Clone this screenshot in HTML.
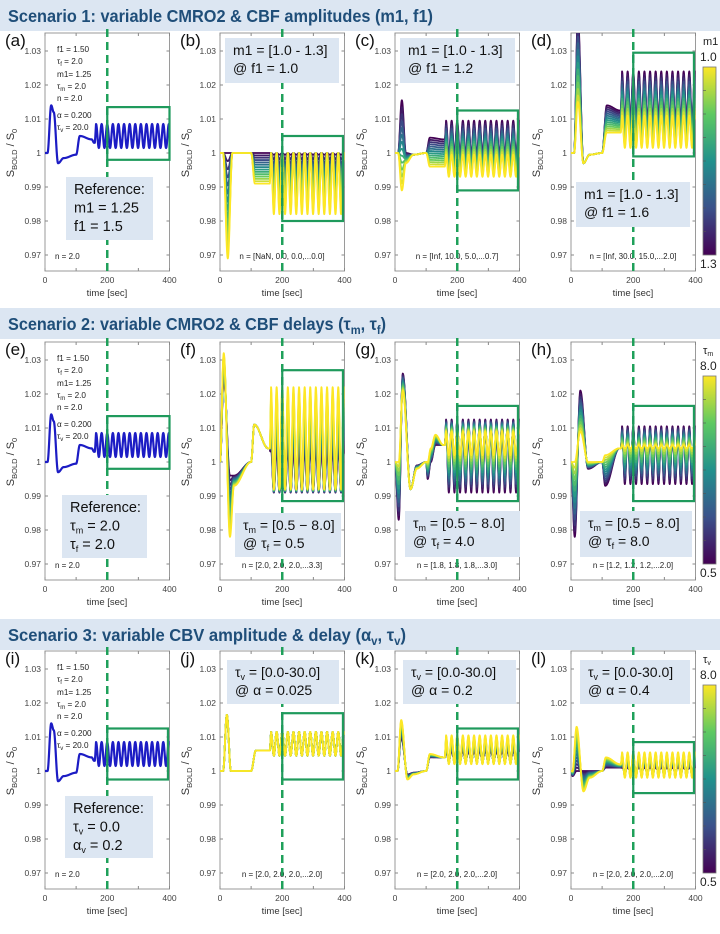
<!DOCTYPE html>
<html><head><meta charset="utf-8"><style>
html,body{margin:0;padding:0;background:#fff;}
svg{display:block;font-family:"Liberation Sans",sans-serif;}
</style></head><body>
<svg id="fig" width="720" height="934" viewBox="0 0 720 934" xmlns="http://www.w3.org/2000/svg">
<defs>
<linearGradient id="vir" x1="0" y1="1" x2="0" y2="0">
<stop offset="0" stop-color="#440154"/><stop offset="0.25" stop-color="#3b528b"/><stop offset="0.5" stop-color="#21918c"/><stop offset="0.75" stop-color="#5ec962"/><stop offset="1" stop-color="#fde725"/>
</linearGradient>
</defs>
<g id="layer"></g>
</svg>
<script>
// ---- data ----
const yTicks = [0.97, 0.98, 0.99, 1.00, 1.01, 1.02, 1.03];
const yTickLabels = ["0.97", "0.98", "0.99", "1", "1.01", "1.02", "1.03"];
const xTicks = [0, 100, 200, 300, 400];
const xTickLabels = ["0", "", "200", "", "400"];
const oscStart = 160;
const oscPeriod = 18;

const refT = [0, 8, 20, 28, 42, 60, 100, 112, 150, 158];
const refV = [1, 1, 1.014, 1.012, 0.997, 0.9985, 0.9995, 1.005, 1.004, 1.003];
const refOsc = [1.0085, 1.0015];

const bT = [0, 10, 25, 40, 100, 112, 158];
const bA = [1, 1, 1, 1, 1, 1, 1];
const bB = [1, 1, 0.969, 1, 1, 0.991, 0.991];
const bOscA = [1, 0.9995];
const bOscB = [1, 0.982];

const cT = [0, 10, 22, 35, 60, 100, 112, 158];
const cA = [1, 1, 1.0155, 1.0, 0.9995, 1.0, 1.0045, 1.004];
const cB = [1, 1, 0.989, 0.997, 0.9995, 1, 0.996, 0.996];
const cOscA = [1.0095, 0.999];
const cOscB = [0.9995, 0.993];

const dT = [0, 10, 22, 40, 60, 100, 115, 158];
const dA = [1, 1, 1.04, 0.997, 0.9995, 1, 1.014, 1.0125];
const dB = [1, 1, 1.015, 0.997, 0.9995, 1, 1.006, 1.006];
const dOscA = [1.024, 1.009];
const dOscB = [1.011, 1.0015];

const fT = [0, 12, 32, 45, 100, 110, 155];
const fA = [1, 1.025, 0.996, 0.996, 1, 1.011, 1.004];
const fB = [1, 1.032, 0.978, 0.993, 1, 1.011, 1.004];
const fOscA = [1.004, 0.991];
const fOscB = [1.022, 0.992];

const gT = [0, 12, 25, 50, 70, 100, 105, 115, 130, 155];
const gA = [1, 0.983, 1.026, 0.992, 0.999, 1, 0.995, 1.0, 1.005, 1.005];
const gB = [1, 1.0, 1.021, 0.992, 0.998, 1, 1.0, 1.004, 1.008, 1.005];
const gOscA = [1.0125, 0.991];
const gOscB = [1.009, 1.002];

const hT = [0, 12, 30, 55, 100, 110, 155];
const hA = [1, 0.978, 1.021, 0.998, 1.0, 0.993, 1.004];
const hB = [1, 1.0, 1.009, 1.0, 1.0, 1.002, 1.004];
const hOscA = [1.0105, 0.9935];
const hOscB = [1.005, 1.004];

const jT = [0, 10, 22, 35, 100, 115, 158];
const jA = [1, 1, 1.0165, 1.0, 1.0, 1.006, 1.006];
const jB = [1, 1, 1.0165, 1.0, 1.0, 1.006, 1.006];
const jOscA = [1.0115, 1.0045];
const jOscB = [1.0115, 1.0045];

const kT = [0, 8, 20, 40, 60, 100, 112, 158];
const kA = [1, 1, 1.010, 0.999, 0.9995, 1, 1.004, 1.004];
const kB = [1, 1, 1.015, 0.9975, 0.999, 1, 1.005, 1.004];
const kOscA = [1.006, 1.003];
const kOscB = [1.0105, 1.002];

const lT = [0, 5, 18, 40, 60, 100, 112, 158];
const lA = [1, 0.9985, 1.0, 1.0, 1, 1, 1.001, 1.001];
const lB = [1, 1, 1.013, 0.994, 0.998, 1, 1.004, 1.002];
const lOscA = [1.001, 1.0];
const lOscB = [1.0055, 0.998];

// green boxes [t0, t1, vTop, vBottom]
const boxA = [200, 400, 1.0135, 0.998];
const boxB = [200, 395, 1.005, 0.980];
const boxC = [200, 395, 1.0125, 0.989];
const boxD = [200, 395, 1.0295, 0.999];
const boxF = [200, 395, 1.027, 0.9885];
const boxG = [200, 395, 1.0165, 0.9885];
const boxJ = [200, 395, 1.017, 0.9975];
const boxK = [200, 395, 1.0125, 0.9975];
const boxL = [200, 395, 1.0085, 0.9935];

// ---- layout ----
const NS = "http://www.w3.org/2000/svg";
const layer = document.getElementById("layer");
const rowY1 = [153, 462, 771];
const colX0 = [45, 220, 395, 571];
const PXW = 124.5 / 400;
const PXV = 3400;
const VIR = ["#440154", "#3b528b", "#21918c", "#5ec962", "#fde725"];

function mk(tag, attrs, parent) {
  const e = document.createElementNS(NS, tag);
  for (const k in attrs) e.setAttribute(k, attrs[k]);
  (parent || layer).appendChild(e);
  return e;
}
function txt(str, x, y, size, parent, extra) {
  const e = mk("text", Object.assign({x: x, y: y, "font-size": size, fill: "#222"}, extra || {}), parent);
  e.textContent = str;
  return e;
}
function hex(c) { return [parseInt(c.substr(1, 2), 16), parseInt(c.substr(3, 2), 16), parseInt(c.substr(5, 2), 16)]; }
function viridis(f) {
  const p = Math.max(0, Math.min(1, f)) * 4, i = Math.min(3, Math.floor(p)), r = p - i;
  const a = hex(VIR[i]), b = hex(VIR[i + 1]);
  return "rgb(" + a.map((v, k) => Math.round(v + (b[k] - v) * r)).join(",") + ")";
}
function keyVal(T, V, t) {
  if (t <= T[0]) return V[0];
  for (let i = 0; i < T.length - 1; i++) {
    if (t <= T[i + 1]) {
      const r = (t - T[i]) / (T[i + 1] - T[i]);
      const e = 0.5 - 0.5 * Math.cos(Math.PI * r);
      return V[i] + (V[i + 1] - V[i]) * e;
    }
  }
  return V[V.length - 1];
}
function curvePath(T, V, osc, ax) {
  let d = "";
  for (let t = 0; t <= 400; t += 0.5) {
    let v;
    if (t < oscStart) v = keyVal(T, V, t);
    else {
      const ph = Math.cos(2 * Math.PI * (t - oscStart - 4) / oscPeriod);
      const ov = osc[1] + (osc[0] - osc[1]) * (0.5 + 0.5 * ph);
      const bl = Math.min(1, (t - oscStart) / 4);
      v = keyVal(T, V, t) * (1 - bl) + ov * bl;
    }
    d += (d ? "L" : "M") + ax.x(t).toFixed(2) + "," + ax.y(v).toFixed(2);
  }
  return d;
}

let clipN = 0;
function makeAxes(row, col, letter, nText) {
  const x0 = colX0[col], y1 = rowY1[row];
  const ax = {x: t => x0 + t * PXW, y: v => y1 - (v - 1) * PXV};
  const top = y1 - 120, bot = y1 + 118, right = x0 + 124.5;
  const g = mk("g", {});
  
  
  ax.g = g;
  const fr = mk("rect", {x: x0, y: top, width: 124.5, height: bot - top, fill: "#fff", stroke: "#9a9a9a", "stroke-width": 1}, g);
  
  
  yTicks.forEach((v, i) => {
    const yy = ax.y(v);
    mk("line", {x1: x0, x2: x0 + 3, y1: yy, y2: yy, stroke: "#888"}, g);
    mk("line", {x1: right - 3, x2: right, y1: yy, y2: yy, stroke: "#888"}, g);
    const tl = txt(yTickLabels[i], x0 - 4, yy + 3, 8.5, g, {"text-anchor": "end", fill: "#444"});
    
    
  });
  xTicks.forEach((t, i) => {
    const xx = ax.x(t);
    mk("line", {x1: xx, x2: xx, y1: bot, y2: bot - 3, stroke: "#888"}, g);
    mk("line", {x1: xx, x2: xx, y1: top, y2: top + 3, stroke: "#888"}, g);
    if (xTickLabels[i]) {
      const tl = txt(xTickLabels[i], xx, bot + 12, 8.5, g, {"text-anchor": "middle", fill: "#444"});
      
      
    }
  });
  const xl = txt("time [sec]", x0 + 62, bot + 25, 9.5, g, {"text-anchor": "middle", fill: "#333"});
  
  
  const yl = mk("text", {x: 0, y: 0, "font-size": 11, fill: "#333", "text-anchor": "middle", transform: "translate(" + (x0 - 31) + "," + y1 + ") rotate(-90)"}, g);
  yl.innerHTML = 'S<tspan font-size="7.5" dy="3">BOLD</tspan><tspan dy="-3"> / S</tspan><tspan font-size="7.5" dy="3">0</tspan>';
  
  
  const lt = txt("(" + letter + ")", x0 - 40, top + 13, 17, g, {fill: "#111"});
  
  
  clipN++;
  const cp = mk("clipPath", {id: "cp" + clipN}, g);
  mk("rect", {x: x0, y: top, width: 124.5, height: bot - top}, cp);
  ax.plot = mk("g", {"clip-path": "url(#cp" + clipN + ")"}, g);
  ax.top = top; ax.bot = bot; ax.x0 = x0;
  if (nText) {
    const nt = txt(nText.s, nText.left ? x0 + 10 : x0 + 62, y1 + 106, 8, g, {"text-anchor": nText.left ? "start" : "middle", fill: "#222"});
    
    
  }
  return ax;
}
function drawFamily(ax, T, A, B, oscA, oscB) {
  const N = 14;
  for (let k = 0; k < N; k++) {
    const f = k / (N - 1);
    const V = A.map((a, i) => a + (B[i] - a) * f);
    const osc = [oscA[0] + (oscB[0] - oscA[0]) * f, oscA[1] + (oscB[1] - oscA[1]) * f];
    const p = mk("path", {d: curvePath(T, V, osc, ax), fill: "none", stroke: viridis(f), "stroke-width": 1.8, "stroke-linejoin": "round"}, ax.plot);
    
    
  }
}
function drawRef(ax) {
  const p = mk("path", {d: curvePath(refT, refV, refOsc, ax), fill: "none", stroke: "#1c1cc4", "stroke-width": 2.2, "stroke-linejoin": "round"}, ax.plot);
  
  
}
function drawGuides(ax, box) {
  const xx = ax.x(200);
  const dl = mk("line", {x1: xx, x2: xx, y1: ax.top - 4, y2: ax.bot, stroke: "#1fa05a", "stroke-width": 2.5, "stroke-dasharray": "8,5"}, ax.g);
  
  
  const r = mk("rect", {x: ax.x(box[0]), y: ax.y(box[2]), width: ax.x(box[1]) - ax.x(box[0]), height: ax.y(box[3]) - ax.y(box[2]), fill: "none", stroke: "#1f9a5c", "stroke-width": 2.2}, ax.g);
  
  
}
function infoBox(x, y, w, h, lines, size, name) {
  const g = mk("g", {});
  
  
  mk("rect", {x: x, y: y, width: w, height: h, fill: "#dce6f2"}, g);
  lines.forEach((ln, i) => {
    const t = mk("text", {x: x + 8, y: y + 17 + i * (size + 4), "font-size": size, fill: "#111"}, g);
    t.innerHTML = ln;
  });
}
function paramText(ax) {
  const g = mk("g", {}, ax.g);
  
  
  const x = ax.x0 + 12, y = ax.top;
  const L = [["f1  = 1.50", 19], ["τ<tspan font-size='6' dy='2'>f</tspan><tspan dy='-2'> = 2.0</tspan>", 31],
    ["m1= 1.25", 44], ["τ<tspan font-size='6' dy='2'>m</tspan><tspan dy='-2'> = 2.0</tspan>", 56], ["n  = 2.0", 68],
    ["α  = 0.200", 85], ["τ<tspan font-size='6' dy='2'>v</tspan><tspan dy='-2'> = 20.0</tspan>", 97]];
  L.forEach(l => { const t = mk("text", {x: x, y: y + l[1], "font-size": 8.2, fill: "#222"}, g); t.innerHTML = l[0]; });
}
function header(y, html, len) {
  const g = mk("g", {});
  
  
  mk("rect", {x: 0, y: y, width: 720, height: 31, fill: "#dce6f2"}, g);
  const t = mk("text", {x: 8, y: y + 22, "font-size": 17.5, "font-weight": "bold", fill: "#1f4e79", textLength: len, lengthAdjust: "spacingAndGlyphs"}, g);
  t.innerHTML = html;
}
function colorbar(y, labTop, labHi, labLo) {
  const g = mk("g", {});
  
  
  mk("rect", {x: 703, y: y, width: 13, height: 188, fill: "url(#vir)", stroke: "#777", "stroke-width": 0.8}, g);
  for (let i = 1; i < 8; i++) mk("line", {x1: 703, x2: 706, y1: y + i * 23.5, y2: y + i * 23.5, stroke: "#555", "stroke-width": 0.6}, g);
  const t = mk("text", {x: 703, y: y - 22, "font-size": 11, fill: "#222"}, g); t.innerHTML = labTop;
  txt(labHi, 700, y - 6, 12, g);
  txt(labLo, 700, y + 201, 12, g);
}

// headers
header(0, "Scenario 1: variable CMRO2 &amp; CBF amplitudes (m1, f1)", 425);
header(308, "Scenario 2: variable CMRO2 &amp; CBF delays (τ<tspan font-size='12' dy='4'>m</tspan><tspan dy='-4'>, τ</tspan><tspan font-size='12' dy='4'>f</tspan><tspan dy='-4'>)</tspan>", 378);
header(619, "Scenario 3: variable CBV amplitude &amp; delay (α<tspan font-size='12' dy='4'>v</tspan><tspan dy='-4'>, τ</tspan><tspan font-size='12' dy='4'>v</tspan><tspan dy='-4'>)</tspan>", 398);

// Row 1
let ax;
ax = makeAxes(0, 0, "a", {s: "n = 2.0", left: true}); drawRef(ax); drawGuides(ax, boxA); paramText(ax);
ax = makeAxes(0, 1, "b", {s: "n = [NaN, 0.0, 0.0,...0.0]"}); drawFamily(ax, bT, bA, bB, bOscA, bOscB); drawGuides(ax, boxB);
ax = makeAxes(0, 2, "c", {s: "n = [Inf, 10.0, 5.0,...0.7]"}); drawFamily(ax, cT, cA, cB, cOscA, cOscB); drawGuides(ax, boxC);
ax = makeAxes(0, 3, "d", {s: "n = [Inf, 30.0, 15.0,...2.0]"}); drawFamily(ax, dT, dA, dB, dOscA, dOscB); drawGuides(ax, boxD);
// Row 2
ax = makeAxes(1, 0, "e", {s: "n = 2.0", left: true}); drawRef(ax); drawGuides(ax, boxA); paramText(ax);
ax = makeAxes(1, 1, "f", {s: "n = [2.0, 2.0, 2.0,...3.3]"}); drawFamily(ax, fT, fA, fB, fOscA, fOscB); drawGuides(ax, boxF);
ax = makeAxes(1, 2, "g", {s: "n = [1.8, 1.8, 1.8,...3.0]"}); drawFamily(ax, gT, gA, gB, gOscA, gOscB); drawGuides(ax, boxG);
ax = makeAxes(1, 3, "h", {s: "n = [1.2, 1.2, 1.2,...2.0]"}); drawFamily(ax, hT, hA, hB, hOscA, hOscB); drawGuides(ax, boxG);
// Row 3
ax = makeAxes(2, 0, "i", {s: "n = 2.0", left: true}); drawRef(ax); drawGuides(ax, boxK); paramText(ax);
ax = makeAxes(2, 1, "j", {s: "n = [2.0, 2.0, 2.0,...2.0]"}); drawFamily(ax, jT, jA, jB, jOscA, jOscB); drawGuides(ax, boxJ);
ax = makeAxes(2, 2, "k", {s: "n = [2.0, 2.0, 2.0,...2.0]"}); drawFamily(ax, kT, kA, kB, kOscA, kOscB); drawGuides(ax, boxK);
ax = makeAxes(2, 3, "l", {s: "n = [2.0, 2.0, 2.0,...2.0]"}); drawFamily(ax, lT, lA, lB, lOscA, lOscB); drawGuides(ax, boxL);

// info boxes
const S = "<tspan font-size='9' dy='3'>", E = "</tspan><tspan dy='-3'>";
infoBox(66, 177, 87, 63, ["Reference:", "m1 = 1.25", "f1 = 1.5"], 14.5, "reference-box");
infoBox(225, 38, 114, 45, ["m1 = [1.0 - 1.3]", "@ f1 = 1.0"], 14, "parameter-range-box");
infoBox(400, 38, 115, 45, ["m1 = [1.0 - 1.3]", "@ f1 = 1.2"], 14, "parameter-range-box");
infoBox(576, 182, 114, 45, ["m1 = [1.0 - 1.3]", "@ f1 = 1.6"], 14, "parameter-range-box");
infoBox(62, 495, 85, 63, ["Reference:", "τ" + S + "m" + E + " = 2.0</tspan>", "τ" + S + "f" + E + " = 2.0</tspan>"], 14.5, "reference-box");
infoBox(235, 513, 106, 44, ["τ" + S + "m" + E + " = [0.5 − 8.0]</tspan>", "@ τ" + S + "f" + E + " = 0.5</tspan>"], 14, "parameter-range-box");
infoBox(405, 511, 115, 46, ["τ" + S + "m" + E + " = [0.5 − 8.0]</tspan>", "@ τ" + S + "f" + E + " = 4.0</tspan>"], 14, "parameter-range-box");
infoBox(580, 511, 112, 46, ["τ" + S + "m" + E + " = [0.5 − 8.0]</tspan>", "@ τ" + S + "f" + E + " = 8.0</tspan>"], 14, "parameter-range-box");
infoBox(65, 796, 88, 62, ["Reference:", "τ" + S + "v" + E + " = 0.0</tspan>", "α" + S + "v" + E + " = 0.2</tspan>"], 14.5, "reference-box");
infoBox(227, 660, 112, 44, ["τ" + S + "v" + E + " = [0.0-30.0]</tspan>", "@ α = 0.025"], 14, "parameter-range-box");
infoBox(403, 660, 113, 44, ["τ" + S + "v" + E + " = [0.0-30.0]</tspan>", "@ α = 0.2"], 14, "parameter-range-box");
infoBox(580, 660, 110, 44, ["τ" + S + "v" + E + " = [0.0-30.0]</tspan>", "@ α = 0.4"], 14, "parameter-range-box");

// colorbars
colorbar(67, "m1", "1.0", "1.3");
colorbar(376, "τ<tspan font-size='7' dy='2'>m</tspan>", "8.0", "0.5");
colorbar(685, "τ<tspan font-size='7' dy='2'>v</tspan>", "8.0", "0.5");
</script>
</body></html>
